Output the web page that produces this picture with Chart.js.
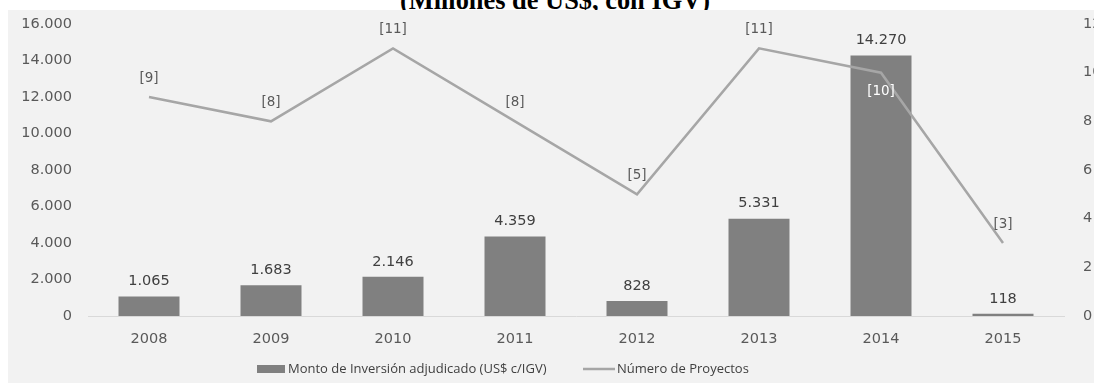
<!DOCTYPE html>
<html>
<head>
<meta charset="utf-8">
<script src="https://cdn.jsdelivr.net/npm/chart.js@4.4.1/dist/chart.umd.min.js"></script>
<style>
  html, body { margin: 0; padding: 0; background: #ffffff; }
  #cap { position: absolute; left: 0; top: 0; width: 1094px; height: 10px; overflow: hidden; }
  #cap div { position: absolute; left: 0; top: -13px; width: 1110px; text-align: center;
             font: bold 26.4px 'Liberation Serif', 'Times New Roman', serif; line-height: 26px; color: #000; white-space: nowrap; }
  #frame { position: absolute; left: 8px; top: 10px; width: 1086px; height: 373px; background: #f2f2f2; }
  canvas { display: block; }
</style>
</head>
<body>
<div id="cap"><div id="capText"></div></div>
<div id="frame"><canvas id="chart" width="1086" height="373"></canvas></div>
<script>
// Inversión adjudicada por año (millones de US$, con IGV) y número de proyectos
const subtitle = '(Millones de US$, con IGV)';
const years = ['2008', '2009', '2010', '2011', '2012', '2013', '2014', '2015'];
const inversion = [1065, 1683, 2146, 4359, 828, 5331, 14270, 118];
const proyectos = [9, 8, 11, 8, 5, 11, 10, 3];
const seriesNames = ['Monto de Inversión adjudicado (US$ c/IGV)', 'Número de Proyectos'];
const montoTicks = [0, 2000, 4000, 6000, 8000, 10000, 12000, 14000, 16000];
const proyectosTicks = [0, 2, 4, 6, 8, 10, 12];
// years whose project-count label sits below the line point
const labelBelow = ['2014'];

document.getElementById('capText').textContent = subtitle;

const BAR = '#808080';
const LINE = '#a6a6a6';
const TICK = '#595959';
const NUM_FONT = "'DejaVu Sans', Verdana, sans-serif";
const TXT_FONT = "'Open Sans', 'Noto Sans', sans-serif";

const fmt = v => String(v).replace(/\B(?=(\d{3})+(?!\d))/g, '.');

const valueLabels = {
  id: 'valueLabels',
  afterDatasetsDraw(chart) {
    const ctx = chart.ctx;
    ctx.save();
    ctx.textAlign = 'center';
    ctx.textBaseline = 'middle';
    // amounts above the bars
    const barMeta = chart.getDatasetMeta(0);
    ctx.font = '14.5px ' + NUM_FONT;
    ctx.fillStyle = '#404040';
    barMeta.data.forEach((el, i) => {
      ctx.fillText(fmt(inversion[i]), el.x, el.y - 15);
    });
    // project counts by the line points
    const lineMeta = chart.getDatasetMeta(1);
    ctx.font = '13.5px ' + NUM_FONT;
    lineMeta.data.forEach((el, i) => {
      const below = labelBelow.includes(years[i]);
      ctx.fillStyle = below ? '#ffffff' : TICK;
      ctx.fillText('[' + proyectos[i] + ']', el.x, el.y + (below ? 19 : -19));
    });
    ctx.restore();
  }
};

const bottomLegend = {
  id: 'bottomLegend',
  afterDraw(chart) {
    const ctx = chart.ctx;
    const y = 359;
    ctx.save();
    ctx.font = '13px ' + TXT_FONT;
    ctx.textBaseline = 'middle';
    ctx.textAlign = 'left';
    // bar series swatch
    ctx.fillStyle = BAR;
    ctx.fillRect(249, y - 4, 28, 8);
    ctx.fillStyle = '#404040';
    ctx.fillText(chart.data.datasets[0].label, 280, y);
    // line series swatch
    ctx.strokeStyle = LINE;
    ctx.lineWidth = 2.5;
    ctx.beginPath();
    ctx.moveTo(575, y);
    ctx.lineTo(607, y);
    ctx.stroke();
    ctx.fillText(chart.data.datasets[1].label, 609, y);
    ctx.restore();
  }
};

// fixed axis box sizes, without the extra label padding around the plot
function fixVertical(width) {
  return scale => { scale.width = width; scale.paddingTop = 0; scale.paddingBottom = 0; };
}

new Chart(document.getElementById('chart'), {
  data: {
    labels: years,
    datasets: [
      {
        type: 'bar',
        label: seriesNames[0],
        data: inversion,
        backgroundColor: BAR,
        borderWidth: 0,
        barPercentage: 0.5,
        categoryPercentage: 1,
        yAxisID: 'y',
        order: 1
      },
      {
        type: 'line',
        label: seriesNames[1],
        data: proyectos,
        borderColor: LINE,
        borderWidth: 2.5,
        pointRadius: 0,
        tension: 0,
        fill: false,
        yAxisID: 'y1',
        order: 0
      }
    ]
  },
  options: {
    responsive: false,
    animation: false,
    layout: { padding: { top: 14, bottom: 0, left: 0, right: 0 } },
    plugins: {
      legend: { display: false },
      tooltip: { enabled: false },
      title: { display: false }
    },
    scales: {
      x: {
        grid: { display: false, drawTicks: false },
        border: { display: true, color: '#d9d9d9', width: 1 },
        ticks: { color: TICK, font: { family: NUM_FONT, size: 14.5 }, padding: 15, maxRotation: 0 },
        afterFit(scale) { scale.height = 67; scale.paddingLeft = 0; scale.paddingRight = 0; }
      },
      y: {
        position: 'left',
        min: montoTicks[0],
        max: montoTicks[montoTicks.length - 1],
        afterBuildTicks(scale) { scale.ticks = montoTicks.map(v => ({ value: v })); },
        grid: { display: false, drawTicks: false },
        border: { display: false },
        ticks: { color: TICK, font: { family: NUM_FONT, size: 14.5 }, padding: 16, callback: v => fmt(v) },
        afterFit: fixVertical(80)
      },
      y1: {
        position: 'right',
        min: proyectosTicks[0],
        max: proyectosTicks[proyectosTicks.length - 1],
        afterBuildTicks(scale) { scale.ticks = proyectosTicks.map(v => ({ value: v })); },
        grid: { display: false, drawTicks: false },
        border: { display: false },
        ticks: { color: TICK, font: { family: NUM_FONT, size: 14.5 }, padding: 19 },
        afterFit: fixVertical(30)
      }
    }
  },
  plugins: [valueLabels, bottomLegend]
});
</script>
</body>
</html>
